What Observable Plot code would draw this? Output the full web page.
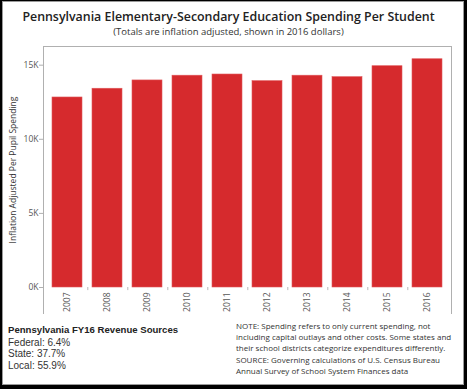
<!DOCTYPE html>
<html><head><meta charset="utf-8">
<script src="https://cdn.jsdelivr.net/npm/d3@7"></script>
<script src="https://cdn.jsdelivr.net/npm/@observablehq/plot@0.6"></script>
<style>
html,body{margin:0;padding:0;}
body{background:#000;width:467px;height:389px;overflow:hidden;position:relative;font-family:"Open Sans",sans-serif;}
#card{position:absolute;left:2px;top:1px;width:462px;height:384px;box-sizing:border-box;border:1px solid #9a9a9a;background:#fff;}
#title{position:absolute;left:0;width:457px;top:8px;text-align:center;font-size:12.4px;font-weight:600;color:#222;white-space:nowrap;}
#subtitle{position:absolute;left:0;width:457px;top:25px;text-align:center;font-size:9.5px;color:#333;white-space:nowrap;}
#chart{position:absolute;left:0;top:0;}
#frame{position:absolute;left:43px;top:46px;width:409px;height:268px;box-sizing:border-box;border:1px solid #b0b0b0;border-bottom:none;pointer-events:none;}
#rev{position:absolute;left:8px;top:324px;font-family:"Liberation Sans",Arial,sans-serif;font-size:10px;color:#222;line-height:12px;white-space:nowrap;}
#rev .h{font-weight:700;font-size:9.6px;margin-bottom:0.5px;}
#rev .r{font-size:10px;line-height:11.8px;color:#333;}
#note{position:absolute;left:236px;top:320px;font-size:8px;color:#333;line-height:11.2px;white-space:nowrap;}
</style>
</head><body>
<div id="card"></div>
<div id="title">Pennsylvania Elementary-Secondary Education Spending Per Student</div>
<div id="subtitle">(Totals are inflation adjusted, shown in 2016 dollars)</div>
<div id="chart"></div>
<div id="frame"></div>
<div id="rev"></div>
<div id="note">NOTE: Spending refers to only current spending, not<br>including capital outlays and other costs. Some states and<br>their school districts categorize expenditures differently.<br>SOURCE: Governing calculations of U.S. Census Bureau<br>Annual Survey of School System Finances data</div>
<script>
const years = ["2007","2008","2009","2010","2011","2012","2013","2014","2015","2016"];
const spending = [12820, 13410, 13970, 14290, 14370, 13920, 14290, 14190, 14930, 15400];
const yTicks = [0, 5000, 10000, 15000];
const yTitle = "Inflation Adjusted Per Pupil Spending";
const revenueTitle = "Pennsylvania FY16 Revenue Sources";
const revenueSources = ["Federal", "State", "Local"];
const revenueShares = [6.4, 37.7, 55.9];

const data = years.map((y, i) => ({year: y, value: spending[i]}));
const W = 467, H = 389, mL = 43, mR = 16, pIn = 0.244, pOut = 0.147;
const step = (W - mL - mR) / (years.length - pIn + 2 * pOut);

const chart = Plot.plot({
  width: W, height: H,
  marginLeft: mL, marginRight: mR, marginTop: 46, marginBottom: 102,
  style: {background: "transparent", fontFamily: "'Open Sans', sans-serif"},
  x: {type: "band", domain: years, paddingInner: pIn, paddingOuter: pOut},
  y: {domain: [0, 16260]},
  marks: [
    Plot.barY(data, {x: "year", y: "value", fill: "#d62a2d", stroke: "#e0575a", strokeWidth: 0.6}),
    Plot.ruleX(years.slice(0, -1), {x: d => d, y1: -210, y2: 0, dx: step / 2, stroke: "#b8b8b8"}),
    Plot.axisY({ticks: yTicks, tickFormat: d => d / 1000 + "K", tickSize: 4, tickPadding: 1, stroke: "#b0b0b0", fill: "#555", fontSize: 8.5, label: null}),
    Plot.axisX({tickSize: 0, tickPadding: 5, tickRotate: -90, fill: "#555", fontSize: 8.5, label: null}),
    Plot.text([yTitle], {text: d => d, frameAnchor: "left", textAnchor: "middle", dx: -30, dy: 3, rotate: -90, fill: "#333", fontSize: 8.5})
  ]
});
document.getElementById("chart").appendChild(chart);

const rev = document.getElementById("rev");
const h = document.createElement("div"); h.className = "h"; h.textContent = revenueTitle; rev.appendChild(h);
revenueSources.forEach((s, i) => {
  const d = document.createElement("div");
  d.className = "r";
  d.textContent = s + ": " + revenueShares[i].toFixed(1) + "%";
  rev.appendChild(d);
});
</script>
</body></html>
